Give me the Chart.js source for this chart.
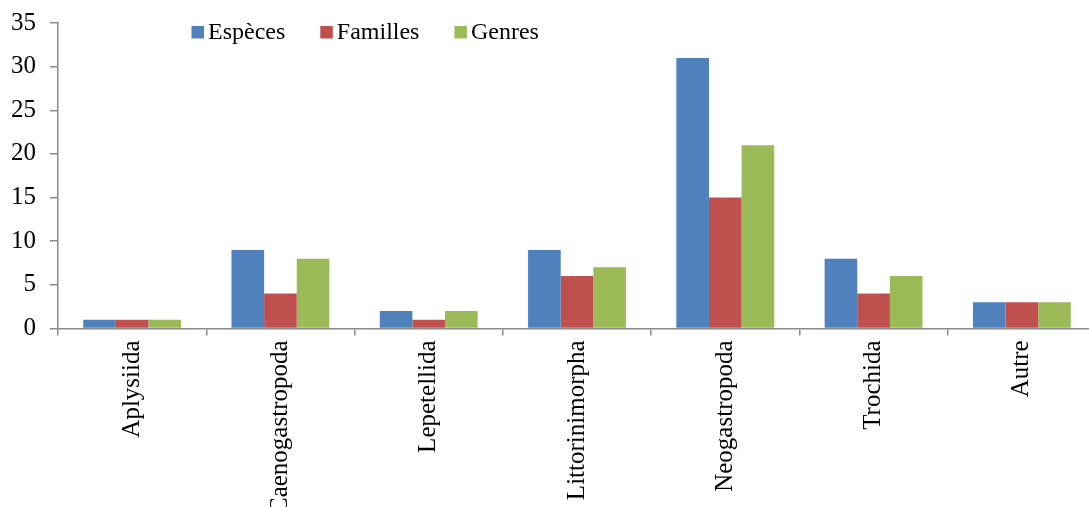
<!DOCTYPE html>
<html>
<head>
<meta charset="utf-8">
<script src="https://cdn.jsdelivr.net/npm/chart.js@4"></script>
<style>
  html, body { margin: 0; padding: 0; background: #fff; overflow: hidden; }
  #wrap { width: 1089px; height: 507px; overflow: hidden; }
  #chart { display: block; margin-top: -6px; margin-left: -3px; }
</style>
</head>
<body>
<div id="wrap"><canvas id="chart" width="1099" height="525"></canvas></div>
<script>
const categories = ["Aplysiida", "Caenogastropoda", "Lepetellida", "Littorinimorpha", "Neogastropoda", "Trochida", "Autre"];
const especes = [1, 9, 2, 9, 31, 8, 3];
const familles = [1, 4, 1, 6, 15, 4, 3];
const genres = [1, 8, 2, 7, 21, 6, 3];
const yTicks = [0, 5, 10, 15, 20, 25, 30, 35];

const serif = "'Liberation Serif', 'Times New Roman', serif";
const axisGrey = "#8a8a8a";

// legend drawn inside the plot area, like the original
const topLegend = {
  id: "topLegend",
  afterDraw(chart) {
    const ctx = chart.ctx;
    ctx.save();
    ctx.font = "24px " + serif;
    ctx.textBaseline = "middle";
    let x = 194.5; // canvas is shifted by (-3, -6)
    const y = 38;
    chart.data.datasets.forEach((ds) => {
      ctx.fillStyle = ds.backgroundColor;
      ctx.fillRect(x, y - 6, 12.5, 12.5);
      x += 16.5;
      ctx.fillStyle = "#000";
      ctx.fillText(ds.label, x, y + 1);
      x += ctx.measureText(ds.label).width + 35;
    });
    ctx.restore();
  },
};

new Chart(document.getElementById("chart"), {
  type: "bar",
  data: {
    labels: categories,
    datasets: [
      { label: "Espèces", data: especes, backgroundColor: "#4f81bd" },
      { label: "Familles", data: familles, backgroundColor: "#c0504d" },
      { label: "Genres", data: genres, backgroundColor: "#9bbb59" },
    ],
  },
  options: {
    responsive: false,
    animation: false,
    categoryPercentage: 0.66,
    barPercentage: 1.0,
    layout: { padding: { top: 2, left: 0, right: 0, bottom: 0 } },
    plugins: { legend: { display: false }, tooltip: { enabled: false } },
    scales: {
      x: {
        offset: true,
        grid: { drawOnChartArea: false, drawTicks: true, tickLength: 7, color: axisGrey, lineWidth: 1.5, offset: true },
        border: { color: axisGrey, width: 1.5 },
        ticks: { color: "#000", font: { family: serif, size: 25 }, minRotation: 90, maxRotation: 90, padding: 5, autoSkip: false },
      },
      y: {
        min: 0,
        max: 35,
        afterBuildTicks: (scale) => { scale.ticks = yTicks.map((v) => ({ value: v })); },
        grid: { drawOnChartArea: false, drawTicks: true, tickLength: 8, color: axisGrey, lineWidth: 1.5 },
        border: { color: axisGrey, width: 1.5 },
        ticks: { color: "#000", font: { family: serif, size: 25 }, padding: 14 },
      },
    },
  },
  plugins: [topLegend],
});
</script>
</body>
</html>
